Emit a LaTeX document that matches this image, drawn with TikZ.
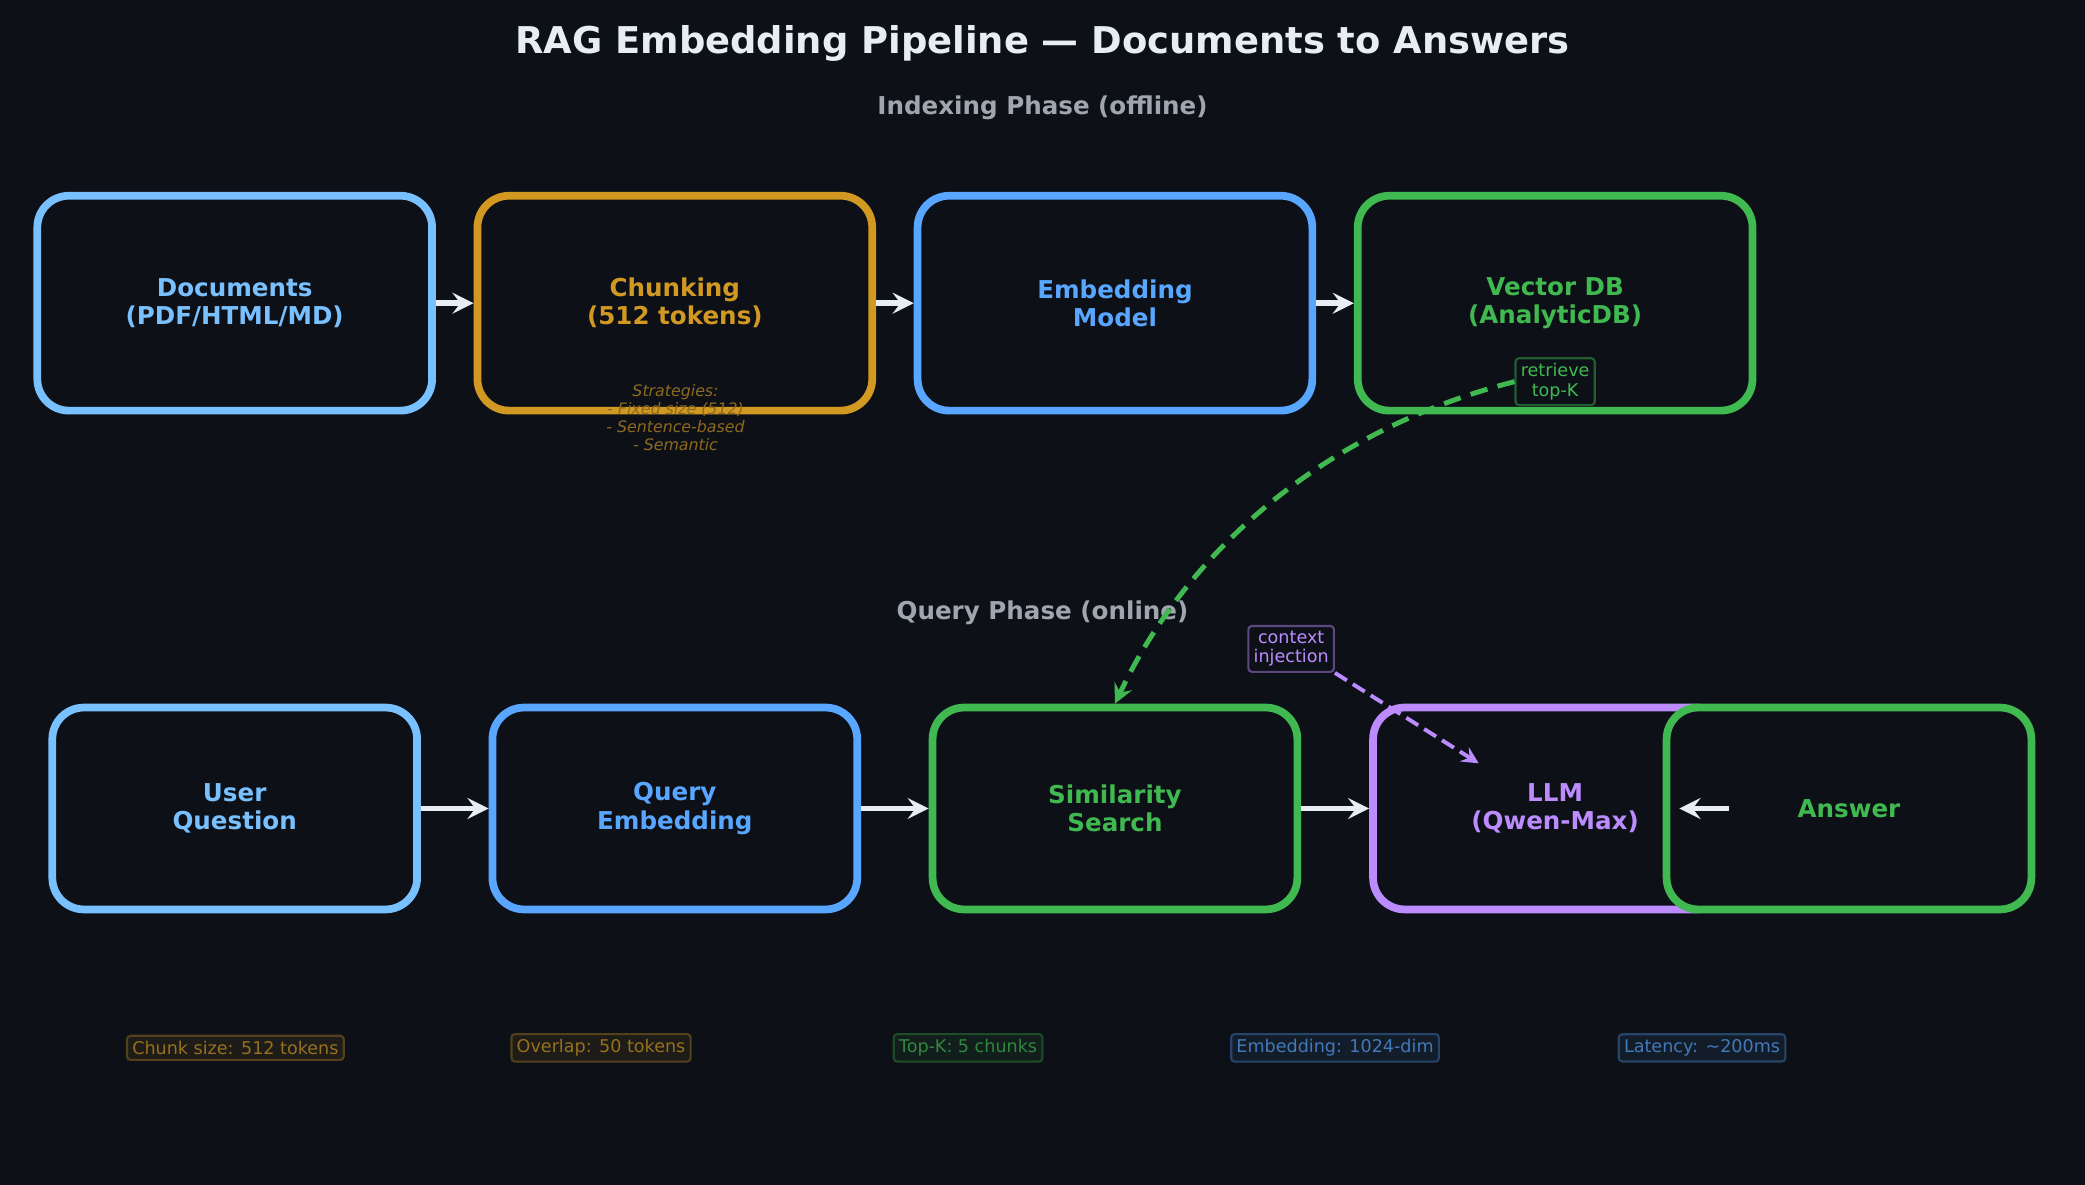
\documentclass[tikz,border=0pt]{standalone}
\usepackage{fontspec}
\setmainfont{DejaVu Sans}
\usetikzlibrary{positioning}
\definecolor{bgc}{HTML}{0D1117}
\definecolor{lblue}{HTML}{79C0FF}
\definecolor{orng}{HTML}{D29922}
\definecolor{dblue}{HTML}{58A6FF}
\definecolor{grn}{HTML}{3FB950}
\definecolor{purp}{HTML}{BC8CFF}
\definecolor{wht}{HTML}{E6EDF3}
\definecolor{gry}{HTML}{A0A6AE}
\tikzset{
  box/.style={draw=#1, text=#1, line width=2.2pt, rounded corners=9pt, fill=bgc,
    font=\fontsize{7}{8}\selectfont\bfseries, align=center, inner sep=0pt},
  flow/.style={-stealth, wht, line width=1.6pt},
  tag/.style={draw=#1!45!bgc, text=#1, line width=0.6pt, rounded corners=1pt,
    font=\fontsize{5}{5.5}\selectfont, align=center, inner sep=1.5pt},
  stat/.style={draw=#1!35!bgc, text=#1!70!bgc, fill=#1!8!bgc, line width=0.6pt,
    rounded corners=1pt, font=\fontsize{5}{6}\selectfont, inner sep=1.5pt}
}
\begin{document}
\begin{tikzpicture}[x=0.0133cm, y=-0.0133cm]
  \fill[bgc] (0,0) rectangle (1568,891);
  \useasboundingbox (0,0) rectangle (1568,891);
  \node[wht, font=\fontsize{10.5}{12}\selectfont\bfseries] (title) at (784,33) {RAG Embedding Pipeline — Documents to Answers};
  \node[gry, font=\fontsize{7}{8}\selectfont\bfseries] (idx) at (784,81) {Indexing Phase (offline)};
  \node[gry, font=\fontsize{7}{8}\selectfont\bfseries] (qry) at (784,461) {Query Phase (online)};
  % indexing row
  \node[box=lblue, minimum width=3.95cm, minimum height=2.15cm] (docs) at (176.5,228) {Documents\\(PDF/HTML/MD)};
  \node[box=orng, minimum width=3.95cm, minimum height=2.15cm] (chunk) at (507.5,228) {Chunking\\(512 tokens)};
  \node[box=dblue, minimum width=3.95cm, minimum height=2.15cm] (emb) at (838.5,228) {Embedding\\Model};
  \node[box=grn, minimum width=3.95cm, minimum height=2.15cm] (vdb) at (1169.5,228) {Vector DB\\(AnalyticDB)};
  \node[orng!65!bgc, font=\fontsize{4.5}{5.2}\selectfont\itshape, align=center] (strat) at (508,314) {Strategies:\\- Fixed size (512)\\- Sentence-based\\- Semantic};
  \draw[flow] (docs) -- (chunk);
  \draw[flow] (chunk) -- (emb);
  \draw[flow] (emb) -- (vdb);
  % query row
  \node[box=lblue, minimum width=3.65cm, minimum height=2.02cm] (user) at (176.5,608) {User\\Question};
  \node[box=dblue, minimum width=3.65cm, minimum height=2.02cm] (qemb) at (507.5,608) {Query\\Embedding};
  \node[box=grn, minimum width=3.65cm, minimum height=2.02cm] (sim) at (838.5,608) {Similarity\\Search};
  \node[box=purp, minimum width=3.55cm, minimum height=2.02cm] (llm) at (1166,608) {};
  \node[purp, font=\fontsize{7}{8}\selectfont\bfseries, align=center] (llmtxt) at (1169.5,608) {LLM\\(Qwen-Max)};
  \node[box=grn, minimum width=3.65cm, minimum height=2.02cm] (ans) at (1390.5,608) {Answer};
  \draw[flow] (user) -- (qemb);
  \draw[flow] (qemb) -- (sim);
  \draw[flow] (sim) -- (llm);
  \coordinate (ansin) at (1300,608);
  \coordinate (llmin) at (1263,608);
  \draw[flow] (ansin) -- (llmin);
  % retrieve / context
  \node[tag=grn] (ret) at (1169.5,287) {retrieve\\top-K};
  \draw[-stealth, grn, line width=1.4pt, dash pattern=on 5pt off 3pt] (ret.west) .. controls (990,325) and (890,420) .. (sim.north);
  \node[tag=purp] (ctx) at (971,488) {context\\injection};
  \coordinate (ctxend) at (1112,574);
  \draw[-stealth, purp, line width=1.1pt, dash pattern=on 4pt off 2pt] (ctx.south east) -- (ctxend);
  % stats
  \node[stat=orng] (s1) at (177,788) {Chunk size: 512 tokens};
  \node[stat=orng] (s2) at (452,788) {Overlap: 50 tokens};
  \node[stat=grn] (s3) at (728,788) {Top-K: 5 chunks};
  \node[stat=dblue] (s4) at (1004,788) {Embedding: 1024-dim};
  \node[stat=dblue] (s5) at (1280,788) {Latency: \textasciitilde200ms};
\end{tikzpicture}
\end{document}
